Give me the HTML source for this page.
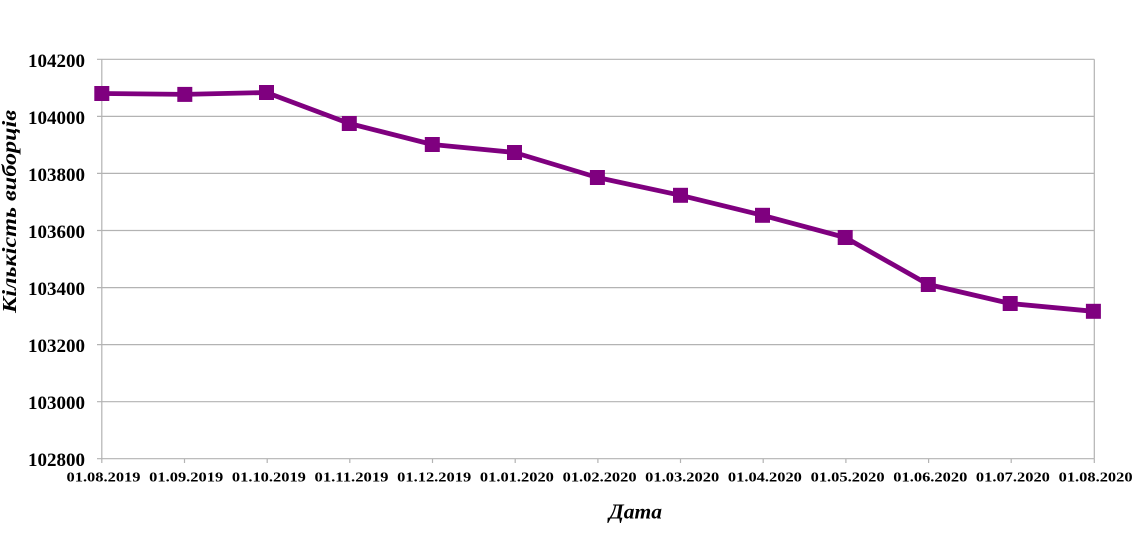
<!DOCTYPE html>
<html>
<head>
<meta charset="utf-8">
<style>
  html,body{margin:0;padding:0;background:#fff;}
  svg{display:block;}
  text{font-family:"Liberation Serif","Times New Roman",serif;fill:#000;}
</style>
</head>
<body>
<svg width="1147" height="534" viewBox="0 0 1147 534" xmlns="http://www.w3.org/2000/svg">
  <rect width="1147" height="534" fill="#fff"/>
  <!-- gridlines -->
  <g stroke="#b3b3b3" stroke-width="1.2" fill="none">
    <line x1="97" y1="59.3" x2="1094.3" y2="59.3"/>
    <line x1="97" y1="116.4" x2="1094.3" y2="116.4"/>
    <line x1="97" y1="173.4" x2="1094.3" y2="173.4"/>
    <line x1="97" y1="230.5" x2="1094.3" y2="230.5"/>
    <line x1="97" y1="287.6" x2="1094.3" y2="287.6"/>
    <line x1="97" y1="344.6" x2="1094.3" y2="344.6"/>
    <line x1="97" y1="401.7" x2="1094.3" y2="401.7"/>
    <line x1="97" y1="458.7" x2="1094.3" y2="458.7"/>
    <!-- axes -->
    <line x1="101.8" y1="59.3" x2="101.8" y2="458.7"/>
    <line x1="1094.3" y1="59.3" x2="1094.3" y2="458.7"/>
    <!-- x ticks -->
    <line x1="101.8" y1="458.7" x2="101.8" y2="463"/>
    <line x1="184.5" y1="458.7" x2="184.5" y2="463"/>
    <line x1="267.2" y1="458.7" x2="267.2" y2="463"/>
    <line x1="349.8" y1="458.7" x2="349.8" y2="463"/>
    <line x1="432.5" y1="458.7" x2="432.5" y2="463"/>
    <line x1="515.2" y1="458.7" x2="515.2" y2="463"/>
    <line x1="597.9" y1="458.7" x2="597.9" y2="463"/>
    <line x1="680.5" y1="458.7" x2="680.5" y2="463"/>
    <line x1="763.2" y1="458.7" x2="763.2" y2="463"/>
    <line x1="845.9" y1="458.7" x2="845.9" y2="463"/>
    <line x1="928.6" y1="458.7" x2="928.6" y2="463"/>
    <line x1="1011.2" y1="458.7" x2="1011.2" y2="463"/>
    <line x1="1094.3" y1="458.7" x2="1094.3" y2="463"/>
  </g>

  <!-- y labels -->
  <g font-size="19" font-weight="bold" text-anchor="end">
    <text x="85" y="67">104200</text>
    <text x="85" y="124">104000</text>
    <text x="85" y="181">103800</text>
    <text x="85" y="238">103600</text>
    <text x="85" y="295">103400</text>
    <text x="85" y="352">103200</text>
    <text x="85" y="409">103000</text>
    <text x="85" y="466">102800</text>
  </g>

  <!-- x labels -->
  <g font-size="14" font-weight="bold" text-anchor="middle">
    <text x="103.5" y="481.5" textLength="74" lengthAdjust="spacingAndGlyphs">01.08.2019</text>
    <text x="186.2" y="481.5" textLength="74" lengthAdjust="spacingAndGlyphs">01.09.2019</text>
    <text x="268.9" y="481.5" textLength="74" lengthAdjust="spacingAndGlyphs">01.10.2019</text>
    <text x="351.5" y="481.5" textLength="74" lengthAdjust="spacingAndGlyphs">01.11.2019</text>
    <text x="434.2" y="481.5" textLength="74" lengthAdjust="spacingAndGlyphs">01.12.2019</text>
    <text x="516.9" y="481.5" textLength="74" lengthAdjust="spacingAndGlyphs">01.01.2020</text>
    <text x="599.6" y="481.5" textLength="74" lengthAdjust="spacingAndGlyphs">01.02.2020</text>
    <text x="682.2" y="481.5" textLength="74" lengthAdjust="spacingAndGlyphs">01.03.2020</text>
    <text x="764.9" y="481.5" textLength="74" lengthAdjust="spacingAndGlyphs">01.04.2020</text>
    <text x="847.6" y="481.5" textLength="74" lengthAdjust="spacingAndGlyphs">01.05.2020</text>
    <text x="930.3" y="481.5" textLength="74" lengthAdjust="spacingAndGlyphs">01.06.2020</text>
    <text x="1012.9" y="481.5" textLength="74" lengthAdjust="spacingAndGlyphs">01.07.2020</text>
    <text x="1095.6" y="481.5" textLength="74" lengthAdjust="spacingAndGlyphs">01.08.2020</text>
  </g>

  <!-- axis titles -->
  <text transform="translate(16,211.5) rotate(-90)" text-anchor="middle" font-size="20.5" font-weight="bold" font-style="italic" textLength="203" lengthAdjust="spacingAndGlyphs">Кількість виборців</text>
  <text x="635.5" y="518.5" text-anchor="middle" font-size="21" font-weight="bold" font-style="italic" textLength="53" lengthAdjust="spacingAndGlyphs">Дата</text>

  <!-- series -->
  <polyline fill="none" stroke="#7f007f" stroke-width="4.8" stroke-linejoin="round"
    points="101.8,93.5 184.8,94.4 266.5,92.5 349.3,123.5 432.3,144.5 514.5,152.5 597.4,177.5 680.5,195.3 762.5,215.3 845.2,237.5 928.3,284.5 1010.2,303.5 1093.4,311.3"/>
  <g fill="#7f007f">
    <rect x="94.3" y="86" width="15" height="15"/>
    <rect x="177.3" y="86.9" width="15" height="15"/>
    <rect x="259" y="85" width="15" height="15"/>
    <rect x="341.8" y="116" width="15" height="15"/>
    <rect x="424.8" y="137" width="15" height="15"/>
    <rect x="507" y="145" width="15" height="15"/>
    <rect x="589.9" y="170" width="15" height="15"/>
    <rect x="673" y="187.8" width="15" height="15"/>
    <rect x="755" y="207.8" width="15" height="15"/>
    <rect x="837.7" y="230" width="15" height="15"/>
    <rect x="920.8" y="277" width="15" height="15"/>
    <rect x="1002.7" y="296" width="15" height="15"/>
    <rect x="1085.9" y="303.8" width="15" height="15"/>
  </g>
</svg>
</body>
</html>
